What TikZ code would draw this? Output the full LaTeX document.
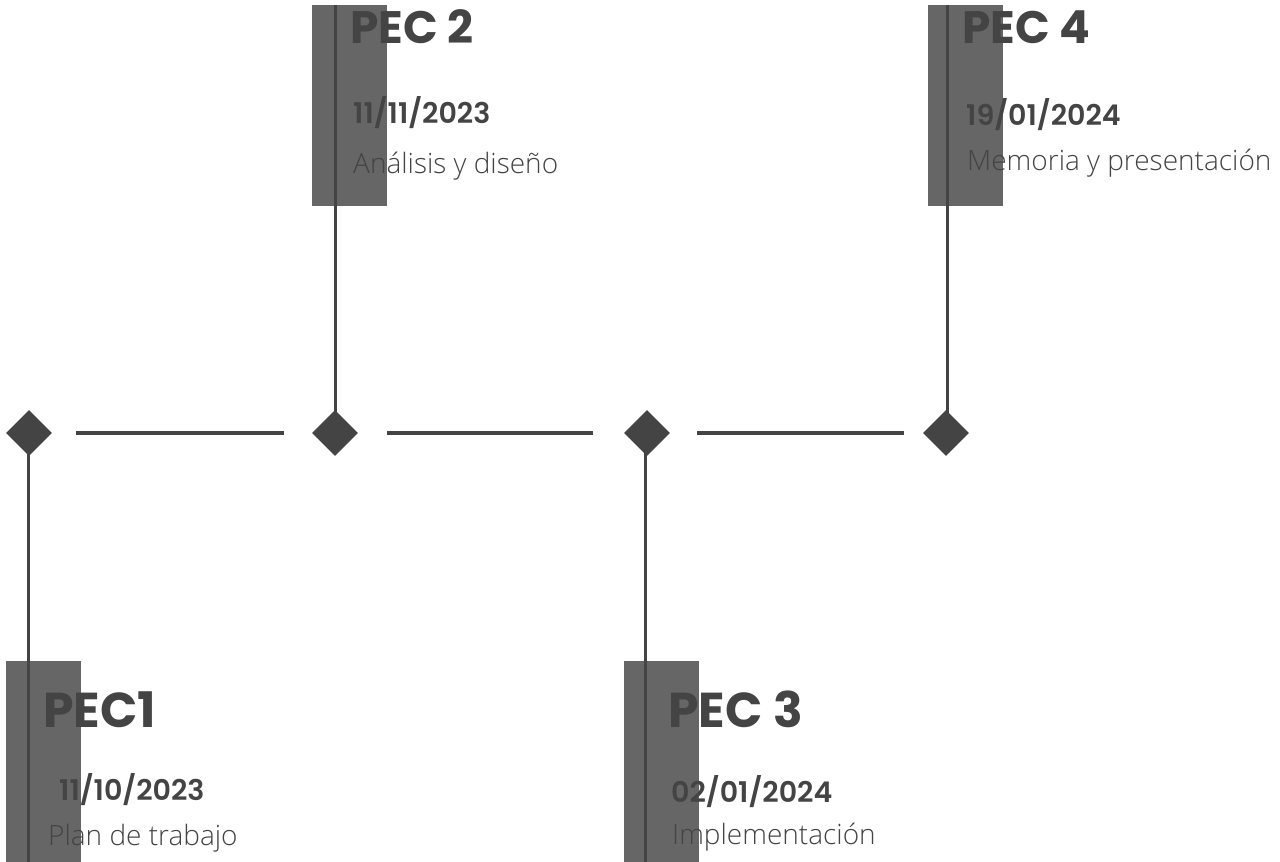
\documentclass[tikz,border=0pt]{standalone}
\usepackage{fontspec}
\usetikzlibrary{shapes.geometric}
\newfontfamily\titlefont{Poppins}[UprightFont=* Bold]
\newfontfamily\datefont{Poppins}[UprightFont=* SemiBold]
\newfontfamily\bodyfont{Open Sans Light}
\definecolor{ink}{HTML}{444444}
\definecolor{bar}{HTML}{666666}
\begin{document}
\begin{tikzpicture}[x=1pt,y=-1pt,
  gem/.style={diamond,fill=ink,draw=none,inner sep=0pt,minimum width=46pt,minimum height=46pt},
  stem/.style={draw=ink,line width=3pt},
  link/.style 2 args={draw=ink,line width=4pt,shorten <=#1,shorten >=#2},
  barbox/.style={fill=bar,draw=none},
  ttl/.style={anchor=base west,inner sep=0pt,text=ink,font=\titlefont\fontsize{45.5}{45.5}\selectfont},
  ttlb/.style={anchor=base west,inner sep=0pt,text=ink,font=\titlefont\fontsize{49}{49}\selectfont},
  dte/.style={anchor=base west,inner sep=0pt,text=ink,font=\datefont\fontsize{28.5}{28.5}\selectfont},
  bdy/.style={anchor=base west,inner sep=0pt,text=ink,font=\bodyfont\fontsize{28}{28}\selectfont}]
\useasboundingbox[fill=white] (0,0) rectangle (1280,862);
% bars
\fill[barbox] (312,5) rectangle (387,206);
\fill[barbox] (928,5) rectangle (1003,206);
\fill[barbox] (6,661) rectangle (81,862);
\fill[barbox] (624,661) rectangle (699,862);
% stems
\coordinate (c1) at (28,433);
\coordinate (c2) at (335,433);
\coordinate (c3) at (645,433);
\coordinate (c4) at (947,433);
\coordinate (e1) at (28,862);
\coordinate (e2) at (335,5);
\coordinate (e3) at (645,862);
\coordinate (e4) at (947,5);
\draw[stem] (c1) -- (e1);
\draw[stem] (c2) -- (e2);
\draw[stem] (c3) -- (e3);
\draw[stem] (c4) -- (e4);
% diamonds
\node[gem] (d1) at (29,433) {};
\node[gem] (d2) at (335,433) {};
\node[gem] (d3) at (647,433) {};
\node[gem] (d4) at (946,433) {};
\draw[link={24pt}{28pt}] (d1) -- (d2);
\draw[link={29pt}{31pt}] (d2) -- (d3);
\draw[link={27pt}{19pt}] (d3) -- (d4);
% texts
\node[ttl] (t2) at (350,43) {PEC 2};
\node[dte] (a2) at (353,123) {11/11/2023};
\node[bdy] (b2) at (353,173) {Análisis y diseño};
\node[ttl] (t4) at (962,43) {PEC 4};
\node[dte] (a4) at (966,125) {19/01/2024};
\node[bdy] (b4) at (967,170) {Memoria y presentación};
\node[ttlb] (t1) at (43,727) {PEC1};
\node[dte] (a1) at (59,800) {11/10/2023};
\node[bdy] (b1) at (48,845) {Plan de trabajo};
\node[ttlb] (t3) at (668,727) {PEC 3};
\node[dte] (a3) at (671,802) {02/01/2024};
\node[bdy] (b3) at (672,844) {Implementación};
\end{tikzpicture}
\end{document}
